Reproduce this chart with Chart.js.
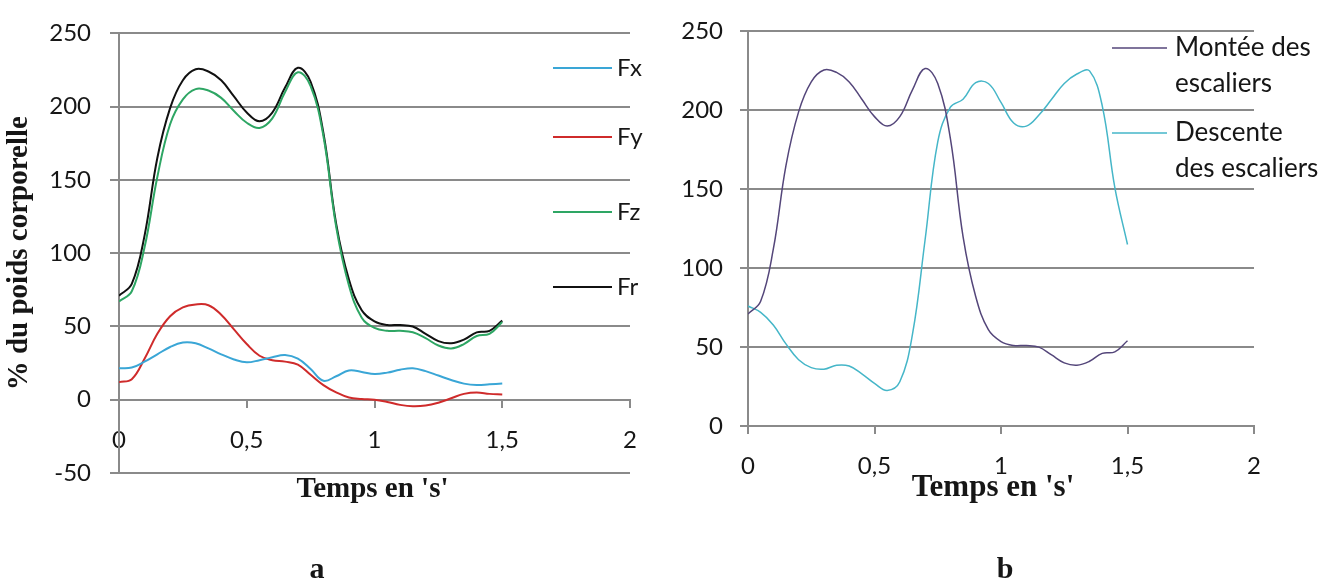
<!DOCTYPE html>
<html>
<head>
<meta charset="utf-8">
<script src="https://cdn.jsdelivr.net/npm/chart.js@4.4.1/dist/chart.umd.min.js"></script>
<style>
  html, body { margin: 0; padding: 0; background: #ffffff; }
  #wrap { position: relative; width: 1337px; height: 582px; }
  .box { position: absolute; top: 0; height: 582px; }
  #boxA { left: 0; width: 668px; }
  #boxB { left: 668px; width: 669px; }
</style>
</head>
<body>
<div id="wrap">
  <div class="box" id="boxA"><canvas id="chartA"></canvas></div>
  <div class="box" id="boxB"><canvas id="chartB"></canvas></div>
</div>
<script>
// Time base (s) shared by every curve
const time = [0, 0.05, 0.1, 0.15, 0.2, 0.25, 0.3, 0.35, 0.4, 0.45, 0.5, 0.55, 0.6, 0.65, 0.7, 0.75,
              0.8, 0.85, 0.9, 0.95, 1, 1.05, 1.1, 1.15, 1.2, 1.25, 1.3, 1.35, 1.4, 1.45, 1.5];

// Panel a: force components, % of body weight
const fx = [21.5, 22, 26, 31, 36, 39, 38.5, 35, 31, 27.5, 25.5, 27, 29, 30.5, 28, 21,
            13, 16, 20, 19, 17.5, 18.5, 20.5, 21.5, 19.5, 16.5, 13.5, 11, 10, 10.5, 11];
const fy = [12, 14, 28, 45, 57, 63, 65, 64.5, 58, 48, 38, 30, 27, 26, 24, 17,
            10, 5, 1.5, 0.5, 0, -1.5, -3.5, -4.5, -4, -2, 1, 4, 5, 4, 3.5];
const fz = [67, 74, 104, 152, 188, 205, 212, 211, 206, 197, 189, 185.5, 192, 210, 223.5, 214,
            180, 118, 78, 56, 49, 47, 47, 46, 42, 37, 35, 38, 43.5, 45, 53];
const fr = [71, 79, 112, 165, 199, 218, 225.5, 224, 218, 207, 196, 190, 196, 213, 226.5, 217,
            182, 120, 82, 61, 53.5, 51, 51, 50, 45, 40, 38.5, 41, 46, 47, 54];

// Panel b: resultant force, climbing vs descending stairs
const montee = [71, 79, 112, 165, 199, 218, 225.5, 224, 218, 207, 196, 190, 196, 213, 226.5, 217,
                182, 120, 82, 61, 53.5, 51, 51, 50, 45, 40, 38.5, 41, 46, 47, 54];
const descente = [76, 72, 64, 52, 42, 37, 36, 38.5, 38, 33, 27, 22.5, 28, 58, 118, 180,
                  202, 207, 217.5, 217, 205, 192, 190, 197, 207, 217, 223, 225, 203, 151, 115];

// Axis ticks
const xTicks = [0, 0.5, 1, 1.5, 2];
const xTickLabels = ['0', '0,5', '1', '1,5', '2'];

const seriesA = ['Fx', 'Fy', 'Fz', 'Fr'];
const seriesB = [['Montée des', 'escaliers'], ['Descente', 'des escaliers']];

const SANS = 'Lato, "Open Sans", sans-serif';
const SERIF = '"Liberation Serif", "DejaVu Serif", serif';
const GRID = '#8a8a8a';
const TEXT = '#161616';

const pts = (vals) => time.map((t, i) => ({ x: t, y: vals[i] }));

function line(label, vals, color, width) {
  return {
    label, data: pts(vals), borderColor: color, backgroundColor: color,
    borderWidth: width, pointRadius: 0, fill: false, tension: 0.4
  };
}

// Draws the free-standing texts (x title, panel letter) and the line legend
const annotate = {
  id: 'annotate',
  afterDraw(chart, args, opts) {
    const ctx = chart.ctx;
    const area = chart.chartArea;
    ctx.save();
    ctx.textBaseline = 'middle';
    ctx.fillStyle = TEXT;
    (opts.texts || []).forEach(t => {
      ctx.font = t.font;
      ctx.textAlign = 'center';
      const x = t.x === 'center' ? (area.left + area.right) / 2 + (t.dx || 0) : t.x;
      ctx.fillText(t.text, x, t.y);
    });
    const lg = opts.legend;
    if (lg) {
      chart.data.datasets.forEach((ds, i) => {
        const y = lg.rows[i];
        ctx.strokeStyle = ds.borderColor;
        ctx.lineWidth = lg.lineWidth;
        ctx.beginPath();
        ctx.moveTo(lg.x1, y);
        ctx.lineTo(lg.x2, y);
        ctx.stroke();
        ctx.font = lg.font;
        ctx.textAlign = 'left';
        ctx.fillStyle = TEXT;
        const lines = Array.isArray(ds.label) ? ds.label : [ds.label];
        lines.forEach((s, k) => ctx.fillText(s, lg.textX, y + k * lg.lineGap));
      });
    }
    ctx.restore();
  }
};

function xScale(tickPad) {
  return {
    type: 'linear', min: 0, max: 2, position: { y: 0 },
    afterBuildTicks: (s) => { s.ticks = xTicks.map(v => ({ value: v })); },
    ticks: {
      color: TEXT, font: { family: SANS, size: 24 }, padding: tickPad, maxRotation: 0,
      callback: (v) => { const k = xTicks.indexOf(v); return k < 0 ? '' : xTickLabels[k]; }
    },
    grid: { drawOnChartArea: false, drawTicks: true, tickLength: 7, color: GRID, lineWidth: 2 },
    border: { display: true, color: GRID, width: 2 }
  };
}

function yScale(min, max, width, tickLen, tickPad, title) {
  return {
    type: 'linear', min, max,
    afterFit: (s) => { s.width = width; },
    ticks: { stepSize: 50, color: TEXT, font: { family: SANS, size: 24 }, padding: tickPad },
    grid: { color: GRID, lineWidth: 2, tickLength: tickLen, drawTicks: true },
    border: { display: true, color: GRID, width: 2 },
    title: title
  };
}

Chart.register(annotate);

new Chart(document.getElementById('chartA'), {
  type: 'line',
  data: {
    datasets: [
      line(seriesA[0], fx, '#3aa6d6', 2),
      line(seriesA[1], fy, '#cf2b2b', 2),
      line(seriesA[2], fz, '#2ea664', 2),
      line(seriesA[3], fr, '#111111', 2)
    ]
  },
  options: {
    responsive: true, maintainAspectRatio: false, animation: false,
    layout: { padding: { left: 0, right: 38, top: 24, bottom: 109 } },
    scales: {
      x: xScale(19),
      y: yScale(-50, 250, 119, 9, 19, {
        display: true, text: '% du poids corporelle', color: TEXT,
        font: { family: SERIF, size: 29, weight: 'bold' }, padding: { top: 2, bottom: 0 }
      })
    },
    plugins: {
      legend: { display: false },
      tooltip: { enabled: false },
      annotate: {
        texts: [
          { text: "Temps en 's'", x: 'center', dx: -2, y: 490, font: 'bold 29px ' + SERIF },
          { text: 'a', x: 317, y: 570, font: 'bold 30px ' + SERIF }
        ],
        legend: { x1: 553, x2: 612, textX: 617, rows: [68, 137, 212, 287], lineGap: 36,
                  lineWidth: 2, font: '24px ' + SANS }
      }
    }
  }
});

new Chart(document.getElementById('chartB'), {
  type: 'line',
  data: {
    datasets: [
      line(seriesB[0], montee, '#54467a', 1.5),
      line(seriesB[1], descente, '#45b6c8', 1.5)
    ]
  },
  options: {
    responsive: true, maintainAspectRatio: false, animation: false,
    layout: { padding: { left: 0, right: 83, top: 24, bottom: 156 } },
    scales: {
      x: xScale(19),
      y: yScale(0, 250, 80, 8, 17, { display: false })
    },
    plugins: {
      legend: { display: false },
      tooltip: { enabled: false },
      annotate: {
        texts: [
          { text: "Temps en 's'", x: 'center', dx: -8, y: 488, font: 'bold 31px ' + SERIF },
          { text: 'b', x: 337, y: 570, font: 'bold 30px ' + SERIF }
        ],
        legend: { x1: 444, x2: 499, textX: 507, rows: [48, 133], lineGap: 36,
                  lineWidth: 1.5, font: '26px ' + SANS }
      }
    }
  }
});
</script>
</body>
</html>
